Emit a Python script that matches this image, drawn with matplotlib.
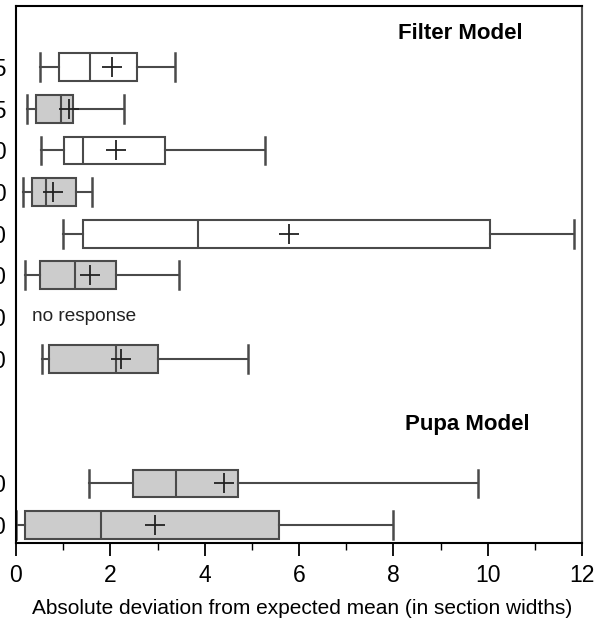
import numpy as np
import matplotlib
matplotlib.use('Agg')
import matplotlib.pyplot as plt
from matplotlib.ticker import MultipleLocator

plt.rcParams['font.family'] = ['Liberation Sans', 'DejaVu Sans']

# Row labels (only the last character shows, the rest is cut off at the left edge)
row_labels = ['0.25', '0.25', '0.50', '0.50', '1.0', '1.0', '2.0', '2.0', '', '', '1.0', '2.0']
row_pos = [0, 1, 2, 3, 4, 5, 6, 7, 10, 11]

# Box statistics per row (row 6 = no response)
whislo = [0.51, 0.24, 0.52, 0.14, 1.00, 0.20, np.nan, 0.56, 1.54, 0.00]
q1     = [0.91, 0.42, 1.02, 0.33, 1.42, 0.50, np.nan, 0.71, 2.49, 0.20]
med    = [1.57, 0.96, 1.43, 0.64, 3.85, 1.26, np.nan, 2.11, 3.39, 1.81]
mean   = [2.04, 1.13, 2.11, 0.79, 5.79, 1.56, np.nan, 2.22, 4.41, 2.95]
q3     = [2.57, 1.20, 3.16, 1.27, 10.05, 2.13, np.nan, 3.01, 4.70, 5.57]
whishi = [3.38, 2.30, 5.28, 1.62, 11.84, 3.45, np.nan, 4.91, 9.80, 8.00]
filled = [False, True, False, True, False, True, False, True, True, True]

fig = plt.figure(figsize=(6.08, 6.21), dpi=100)
ax = fig.add_axes([16 / 608, 1 - 543 / 621, 566 / 608, 537 / 621])

line_col = '#4a4a4a'
for i, p in enumerate(row_pos):
    if np.isnan(med[i]):
        continue
    st = dict(whislo=whislo[i], q1=q1[i], med=med[i], mean=mean[i],
              q3=q3[i], whishi=whishi[i], fliers=[])
    fc = '#cccccc' if filled[i] else 'white'
    ax.bxp([st], positions=[p], widths=0.67, orientation='horizontal',
           showmeans=True, patch_artist=True, capwidths=0.67,
           boxprops=dict(facecolor=fc, edgecolor=line_col, linewidth=1.5),
           medianprops=dict(color=line_col, linewidth=1.5),
           whiskerprops=dict(color=line_col, linewidth=1.5),
           capprops=dict(color=line_col, linewidth=1.8),
           meanprops=dict(marker='+', markersize=14, markeredgecolor='#222222',
                          markeredgewidth=1.3))

ax.text(0.34, 6, 'no response', fontsize=13.7, color='#222222',
        ha='left', va='center')
ax.text(9.43, -0.82, 'Filter Model', fontsize=16, fontweight='bold',
        ha='center', va='center')
ax.text(9.56, 8.58, 'Pupa Model', fontsize=16, fontweight='bold',
        ha='center', va='center')

ax.set_xlim(0, 12)
ax.set_ylim(11.43, -1.47)
ax.xaxis.set_major_locator(MultipleLocator(2))
ax.xaxis.set_minor_locator(MultipleLocator(1))
ax.tick_params(axis='x', which='major', length=9, width=1.3, pad=6,
               labelsize=16.5, direction='out')
ax.tick_params(axis='x', which='minor', length=5, width=1.0, direction='out')
ax.set_yticks(range(len(row_labels)))
ax.set_yticklabels(row_labels)
ax.tick_params(axis='y', length=0, pad=7, labelsize=16.5)

for s in ax.spines.values():
    s.set_linewidth(1.5)
ax.spines['right'].set_color('#555555')

ax.set_xlabel('Absolute deviation from expected mean (in section widths)',
              fontsize=15)
ax.xaxis.set_label_coords(0.505, -0.105)

fig.savefig('out.png', dpi=100)
